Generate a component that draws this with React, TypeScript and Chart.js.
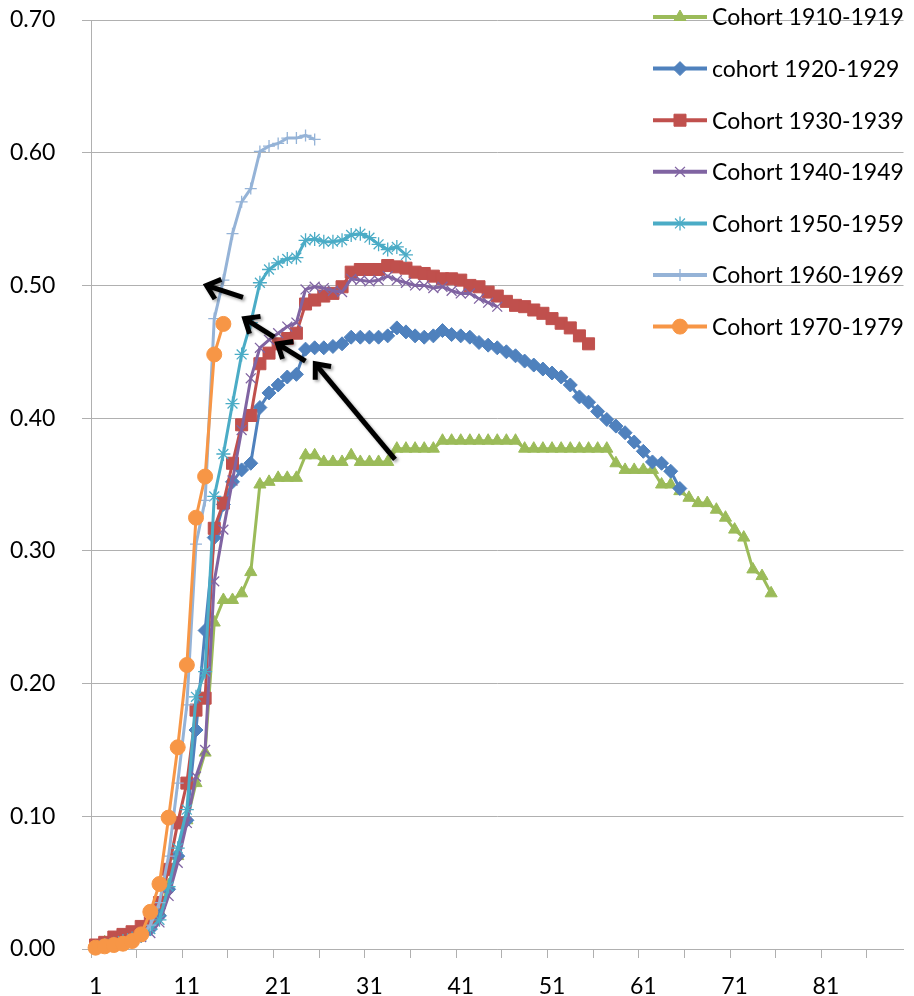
import React, { useEffect, useRef } from 'react';
import { Chart, registerables, PointElement } from 'chart.js';

Chart.register(...registerables);

// ---------- data ----------
const categories: string[] = Array.from({ length: 89 }, (_, i) => String(i + 1));

const seriesNames = [
  'Cohort 1910-1919',
  'cohort 1920-1929',
  'Cohort 1930-1939',
  'Cohort 1940-1949',
  'Cohort 1950-1959',
  'Cohort 1960-1969',
  'Cohort 1970-1979',
];

const cohort1910 = [
  0.002, 0.005, 0.008, 0.010, 0.012, 0.015, 0.018, 0.028, 0.048, 0.070, 0.097, 0.125, 0.148,
  0.246, 0.263, 0.263, 0.268, 0.284,
  0.350, 0.352, 0.355, 0.355, 0.355, 0.372, 0.372, 0.367, 0.367, 0.367, 0.372, 0.367, 0.367, 0.367, 0.367,
  0.377, 0.377, 0.377, 0.377, 0.377,
  0.383, 0.383, 0.383, 0.383, 0.383, 0.383, 0.383, 0.383, 0.383,
  0.377, 0.377, 0.377, 0.377, 0.377, 0.377, 0.377, 0.377, 0.377, 0.377,
  0.366,
  0.361, 0.361, 0.361, 0.361,
  0.350, 0.350, 0.345, 0.340, 0.336, 0.336, 0.331, 0.325, 0.316, 0.310, 0.286, 0.281, 0.268,
];

const cohort1920 = [
  0.001, 0.003, 0.005, 0.006, 0.008, 0.010, 0.015, 0.025, 0.045, 0.070, 0.097, 0.165, 0.240,
  0.310, 0.335, 0.352, 0.361, 0.366, 0.408, 0.419, 0.425, 0.431, 0.433,
  0.452, 0.453, 0.453, 0.454, 0.456, 0.461, 0.461, 0.461, 0.461, 0.462, 0.468, 0.465, 0.462, 0.461,
  0.462, 0.466, 0.463, 0.462, 0.461, 0.457, 0.455, 0.453, 0.450, 0.447, 0.443, 0.440, 0.437, 0.434,
  0.431, 0.425, 0.416, 0.412, 0.405, 0.399, 0.394, 0.389, 0.382, 0.375, 0.367, 0.366, 0.360, 0.347,
];

const cohort1930 = [
  0.003, 0.005, 0.009, 0.011, 0.013, 0.017, 0.022, 0.035, 0.060, 0.095, 0.125, 0.180, 0.189,
  0.317, 0.336, 0.366, 0.395, 0.402, 0.441, 0.449, 0.456, 0.460,
  0.464, 0.486, 0.489, 0.492, 0.494, 0.499, 0.510, 0.512, 0.512, 0.512, 0.515, 0.514, 0.513, 0.510,
  0.509, 0.507, 0.505, 0.505, 0.504, 0.500, 0.499, 0.495, 0.492, 0.488, 0.485, 0.484, 0.4815, 0.479,
  0.475, 0.4715, 0.468, 0.462, 0.456,
];

const cohort1940 = [
  0.001, 0.002, 0.004, 0.005, 0.007, 0.009, 0.012, 0.020, 0.040, 0.065, 0.095, 0.130, 0.150,
  0.277, 0.316, 0.353, 0.391, 0.430, 0.453, 0.459, 0.464, 0.469, 0.472,
  0.497, 0.499, 0.498, 0.496, 0.495, 0.505, 0.504, 0.503, 0.504, 0.507, 0.504, 0.502, 0.500, 0.500,
  0.498, 0.499, 0.496, 0.494, 0.494, 0.490, 0.487, 0.484,
];

const cohort1950 = [
  0.001, 0.003, 0.004, 0.006, 0.008, 0.010, 0.015, 0.022, 0.047, 0.076, 0.105, 0.190, 0.209,
  0.341, 0.373, 0.411, 0.448, 0.472, 0.502, 0.512, 0.517, 0.520, 0.521,
  0.534, 0.535, 0.533, 0.533, 0.534, 0.538, 0.539, 0.536, 0.531, 0.527, 0.529, 0.523,
];

const cohort1960 = [
  0.001, 0.002, 0.004, 0.005, 0.007, 0.010, 0.018, 0.035, 0.070, 0.125, 0.184, 0.305, 0.338,
  0.475, 0.504, 0.539, 0.563, 0.573, 0.601, 0.605, 0.607, 0.611, 0.611, 0.613, 0.610,
];

const cohort1970 = [
  0.001, 0.002, 0.003, 0.004, 0.006, 0.011, 0.028, 0.049, 0.099, 0.152, 0.214, 0.325, 0.356, 0.448, 0.471,
];

const seriesValues = [cohort1910, cohort1920, cohort1930, cohort1940, cohort1950, cohort1960, cohort1970];

const yTickValues = [0, 0.1, 0.2, 0.3, 0.4, 0.5, 0.6, 0.7];

// arrows (category number, value)
const arrowTailX = [17.15, 20.57, 23.99, 33.8];
const arrowTailY = [0.491, 0.461, 0.443, 0.369];
const arrowTipX = [13.15, 17.33, 20.93, 25.07];
const arrowTipY = [0.500, 0.475, 0.456, 0.441];

// ---------- styles ----------
const colors = ['#9BBB59', '#4F81BD', '#C0504D', '#8064A2', '#4BACC6', '#95B3D7', '#F79646'];
const pointStyles = ['triangle', 'rectRot', 'rect', 'crossRot', 'star', 'cross', 'circle'];
const pointRadii = [7, 7, 8.5, 7, 7, 6, 7.5];
const pointBorders = [1, 1, 1, 1.3, 1.3, 1.3, 1];

const GRID = '#B0B0B0';
const FONT = 'Lato, "Liberation Sans", sans-serif';
const FONT_SIZE = 23;

const legendPlugin = {
  id: 'sideLegend',
  afterDraw(chart: any) {
    const ctx = chart.ctx as CanvasRenderingContext2D;
    const top = chart.chartArea.top - 3;
    const step = 51.6;
    const lineX0 = 653;
    const lineX1 = 707;
    ctx.save();
    chart.data.datasets.forEach((ds: any, i: number) => {
      const y = top + i * step;
      ctx.strokeStyle = ds.borderColor;
      ctx.lineWidth = 4;
      ctx.beginPath();
      ctx.moveTo(lineX0, y);
      ctx.lineTo(lineX1, y);
      ctx.stroke();
      const p: any = new (PointElement as any)({
        x: (lineX0 + lineX1) / 2,
        y,
        options: {
          pointStyle: ds.pointStyle,
          radius: ds.pointRadius,
          rotation: 0,
          borderWidth: ds.pointBorderWidth,
          backgroundColor: ds.pointBackgroundColor,
          borderColor: ds.pointBorderColor,
        },
      });
      p.draw(ctx);
      ctx.fillStyle = '#000';
      ctx.font = `${FONT_SIZE}px ${FONT}`;
      ctx.textAlign = 'left';
      ctx.textBaseline = 'middle';
      ctx.fillText(ds.label, lineX1 + 5, y + 1);
    });
    ctx.restore();
  },
};

const arrowPlugin = {
  id: 'arrows',
  afterDatasetsDraw(chart: any) {
    const ctx = chart.ctx as CanvasRenderingContext2D;
    const xs = chart.scales.x;
    const ys = chart.scales.y;
    ctx.save();
    ctx.strokeStyle = '#000';
    ctx.lineWidth = 5;
    ctx.lineCap = 'butt';
    ctx.lineJoin = 'miter';
    ctx.shadowColor = 'rgba(0,0,0,0.35)';
    ctx.shadowBlur = 3;
    ctx.shadowOffsetX = 2;
    ctx.shadowOffsetY = 2;
    for (let i = 0; i < arrowTipX.length; i++) {
      const x0 = xs.getPixelForValue(arrowTailX[i] - 1);
      const y0 = ys.getPixelForValue(arrowTailY[i]);
      const x1 = xs.getPixelForValue(arrowTipX[i] - 1);
      const y1 = ys.getPixelForValue(arrowTipY[i]);
      const a = Math.atan2(y1 - y0, x1 - x0);
      const L = 16;
      const spread = 0.7;
      ctx.beginPath();
      ctx.moveTo(x0, y0);
      ctx.lineTo(x1 - 3 * Math.cos(a), y1 - 3 * Math.sin(a));
      ctx.stroke();
      ctx.beginPath();
      ctx.moveTo(x1 - L * Math.cos(a - spread), y1 - L * Math.sin(a - spread));
      ctx.lineTo(x1, y1);
      ctx.lineTo(x1 - L * Math.cos(a + spread), y1 - L * Math.sin(a + spread));
      ctx.stroke();
    }
    ctx.restore();
  },
};

export default function App() {
  const ref = useRef<HTMLCanvasElement>(null);

  useEffect(() => {
    document.body.style.margin = '0';
    if (!ref.current) return;

    const datasets = seriesValues.map((vals, i) => ({
      label: seriesNames[i],
      data: vals,
      borderColor: colors[i],
      backgroundColor: colors[i],
      borderWidth: 3,
      pointStyle: pointStyles[i],
      pointRadius: pointRadii[i],
      pointBorderWidth: pointBorders[i],
      pointBackgroundColor: colors[i],
      pointBorderColor: colors[i],
      pointHoverRadius: pointRadii[i],
      tension: 0,
      clip: false as any,
      order: -i,
    }));

    const chart = new Chart(ref.current, {
      type: 'line',
      data: { labels: categories, datasets },
      options: {
        responsive: false,
        animation: false,
        events: [],
        layout: { padding: { top: 20, left: 10, right: 0, bottom: 0 } },
        plugins: {
          legend: { display: false },
          tooltip: { enabled: false },
        },
        scales: {
          x: {
            type: 'category',
            offset: true,
            afterFit: (scale: any) => {
              scale.height = 47;
            },
            border: { color: GRID, width: 1 },
            grid: {
              offset: true,
              drawOnChartArea: false,
              drawTicks: true,
              tickLength: 9,
              color: (c: any) => (c.index % 5 === 0 ? GRID : 'rgba(0,0,0,0)'),
            },
            ticks: {
              autoSkip: false,
              maxRotation: 0,
              minRotation: 0,
              padding: 15,
              color: '#000',
              font: { family: FONT, size: FONT_SIZE },
              callback: (_v: any, i: number) => (i % 10 === 0 ? categories[i] : ''),
            },
          },
          y: {
            min: 0,
            max: 0.7,
            afterFit: (scale: any) => {
              scale.width = 81;
            },
            afterBuildTicks: (scale: any) => {
              scale.ticks = yTickValues.map((v) => ({ value: v }));
            },
            border: { color: GRID, width: 1 },
            grid: {
              color: GRID,
              lineWidth: 1,
              drawTicks: true,
              tickLength: 9,
            },
            ticks: {
              padding: 0,
              crossAlign: 'far',
              color: '#000',
              font: { family: FONT, size: FONT_SIZE },
              callback: (v: any) => Number(v).toFixed(2),
            },
          },
        },
      },
      plugins: [arrowPlugin, legendPlugin],
    } as any);

    return () => chart.destroy();
  }, []);

  return (
    <div style={{ position: 'absolute', left: 0, top: 0, width: 914, height: 996 }}>
      <canvas ref={ref} width={914} height={996} style={{ display: 'block' }} />
    </div>
  );
}
